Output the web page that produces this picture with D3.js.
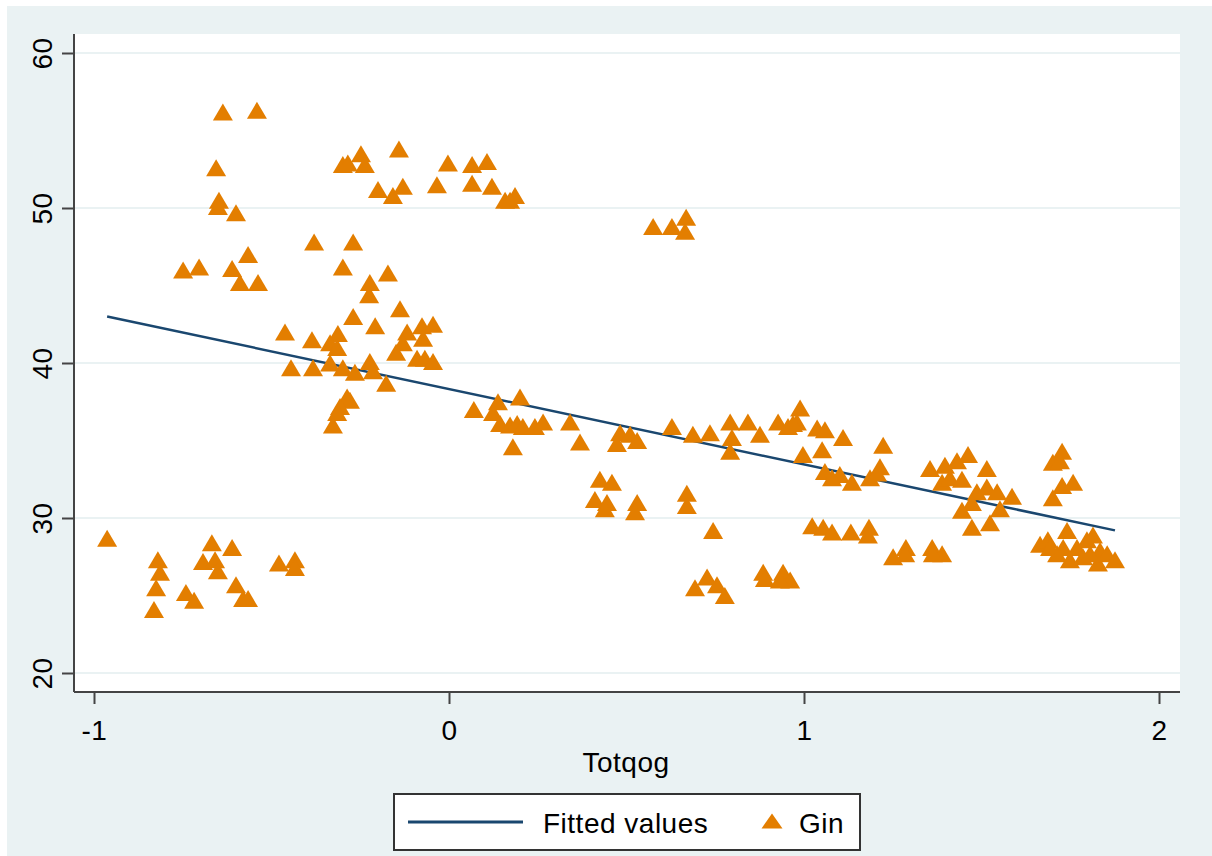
<!DOCTYPE html>
<html>
<head>
<meta charset="utf-8">
<script src="https://cdn.jsdelivr.net/npm/d3@7"></script>
<style>
  body { margin: 0; background: #fff; }
  text { font-family: "Liberation Sans", Arial, sans-serif; fill: #000; letter-spacing: 0.5px; }
</style>
</head>
<body>
<div id="graph"></div>
<script>
var svgWidth = 1212;
var svgHeight = 856;

// Totqog (x) and Gin (y)
var totqog = [
  -0.963, -0.820, -0.814, -0.825, -0.831, -0.741, -0.718, -0.693, -0.668, -0.659,
  -0.651, -0.611, -0.600, -0.580, -0.566, -0.479, -0.434, -0.434,
  -0.637, -0.541, -0.656, -0.648, -0.651, -0.600, -0.566, -0.749, -0.704, -0.611,
  -0.589, -0.538,
  -0.299, -0.285, -0.248, -0.237, -0.141, -0.200, -0.158, -0.130, -0.034, -0.003,
  0.065, 0.065, 0.107, 0.121, 0.158, 0.186, 0.172,
  -0.380, -0.270, -0.299, -0.223, -0.172, -0.225, -0.138, -0.270, -0.208, -0.462,
  -0.386, -0.313, -0.335, -0.315, -0.118, -0.076, -0.045, -0.073, -0.130, -0.149,
  -0.090, -0.068, -0.045, -0.445, -0.383, -0.335, -0.299, -0.265, -0.223, -0.214,
  -0.177, -0.287, -0.279, -0.307, -0.315, -0.327,
  0.070, 0.138, 0.200, 0.124, 0.144, 0.172, 0.192, 0.208, 0.242, 0.265,
  0.180, 0.341, 0.369, 0.482, 0.473, 0.510, 0.530, 0.628, 0.687, 0.735,
  0.792, 0.842, 0.797, 0.792, 0.876, 0.927, 0.955, 0.989, 0.980, 1.037,
  1.059, 1.110, 0.997, 1.051, 1.059, 1.101, 1.079, 1.135, 1.186, 1.214,
  1.206, 1.223, 0.969,
  0.575, 0.628, 0.668, 0.665,
  0.425, 0.459, 0.411, 0.445, 0.439, 0.530, 0.524, 0.670, 0.670, 0.744,
  1.023, 1.054, 1.079, 1.132, 1.183, 1.180,
  0.693, 0.727, 0.755, 0.777, 0.885, 0.890, 0.941, 0.961, 0.932,
  1.251, 1.287, 1.285, 1.361, 1.389, 1.363,
  1.355, 1.397, 1.431, 1.462, 1.515, 1.389, 1.411, 1.445, 1.487, 1.515,
  1.544, 1.586, 1.473, 1.445, 1.552, 1.524, 1.473,
  1.727, 1.701, 1.721, 1.727, 1.758, 1.701, 1.665, 1.687, 1.741, 1.713,
  1.749, 1.769, 1.797, 1.814, 1.786, 1.834, 1.828, 1.854, 1.876, 1.806,
  1.693, 1.730
];
var gin = [
  28.7, 27.3, 26.5, 25.5, 24.1, 25.2, 24.7, 27.2, 28.4, 27.3,
  26.6, 28.1, 25.7, 24.8, 24.8, 27.1, 27.3, 26.8,
  56.2, 56.3, 52.6, 50.5, 50.1, 49.7, 47.0, 46.0, 46.2, 46.1,
  45.2, 45.2,
  52.8, 52.9, 53.5, 52.8, 53.8, 51.2, 50.8, 51.4, 51.5, 52.9,
  52.8, 51.6, 53.0, 51.4, 50.5, 50.8, 50.5,
  47.8, 47.8, 46.2, 45.2, 45.8, 44.4, 43.5, 43.0, 42.4, 42.0,
  41.5, 41.9, 41.3, 41.0, 42.0, 42.4, 42.5, 41.6, 41.3, 40.7,
  40.3, 40.3, 40.1, 39.7, 39.7, 40.0, 39.7, 39.4, 40.1, 39.5,
  38.7, 37.8, 37.6, 37.2, 36.8, 36.0,
  37.0, 37.5, 37.8, 36.8, 36.1, 36.0, 36.1, 35.9, 35.9, 36.2,
  34.6, 36.2, 34.9, 35.5, 34.8, 35.4, 35.0, 35.9, 35.4, 35.5,
  36.2, 36.2, 35.2, 34.3, 35.4, 36.2, 35.9, 37.1, 36.2, 35.8,
  35.7, 35.2, 34.1, 34.4, 33.0, 32.8, 32.6, 32.3, 32.6, 33.3,
  32.9, 34.7, 36.1,
  48.8, 48.8, 49.4, 48.5,
  32.5, 32.3, 31.2, 31.0, 30.6, 31.0, 30.4, 31.6, 30.8, 29.2,
  29.5, 29.4, 29.1, 29.1, 29.4, 28.9,
  25.5, 26.2, 25.7, 25.0, 26.5, 26.1, 26.5, 26.0, 26.0,
  27.5, 28.1, 27.7, 28.1, 27.7, 27.7,
  33.2, 33.4, 33.7, 34.1, 33.2, 32.3, 32.6, 32.5, 31.7, 32.0,
  31.7, 31.4, 31.0, 30.5, 30.6, 29.7, 29.4,
  34.3, 33.6, 33.7, 32.1, 32.3, 31.3, 28.3, 28.6, 29.2, 27.7,
  27.3, 28.1, 28.6, 28.9, 27.5, 27.9, 27.1, 27.7, 27.3, 27.7,
  28.1, 28.1
];

// fitted line end points
var fitX = [-0.963, 1.876];
var fitY = [43.0, 29.2];

var xTicks = [-1, 0, 1, 2];
var yTicks = [20, 30, 40, 50, 60];

var navy = "#1a476f";
var orange = "#e37e00";

var plot = { left: 74, right: 1180, top: 34, bottom: 692 };

var svg = d3.select("#graph")
  .append("svg")
  .attr("width", svgWidth)
  .attr("height", svgHeight);

// graph region background
svg.append("rect")
  .attr("x", 7).attr("y", 6)
  .attr("width", svgWidth - 7).attr("height", svgHeight - 6)
  .attr("fill", "#eaf2f3");

svg.append("rect")
  .attr("x", plot.left).attr("y", plot.top)
  .attr("width", plot.right - plot.left).attr("height", plot.bottom - plot.top)
  .attr("fill", "#fff");

var xScale = d3.scaleLinear().domain([-1, 2]).range([94, 1159]);
var yScale = d3.scaleLinear().domain([20, 60]).range([673, 53]);

// grid lines
svg.append("g")
  .selectAll("line")
  .data(yTicks)
  .enter()
  .append("line")
  .attr("x1", plot.left)
  .attr("x2", plot.right)
  .attr("y1", d => yScale(d))
  .attr("y2", d => yScale(d))
  .attr("stroke", "#eaf2f3")
  .attr("stroke-width", 2);

// axes (plain hyphen minus like Stata)
var fmt = d => String(d);

var yAxis = svg.append("g")
  .attr("transform", `translate(${plot.left}, 0)`)
  .call(d3.axisLeft(yScale).tickValues(yTicks).tickFormat(fmt).tickSize(12).tickSizeOuter(0));
yAxis.select(".domain").remove();
yAxis.append("line")
  .attr("x1", 0).attr("x2", 0)
  .attr("y1", plot.top).attr("y2", plot.bottom)
  .attr("stroke", "#444").attr("stroke-width", 2);
yAxis.selectAll(".tick line").attr("stroke", "#444").attr("stroke-width", 2);
yAxis.selectAll(".tick text")
  .attr("x", null).attr("dy", null)
  .attr("text-anchor", "middle")
  .attr("transform", "translate(-22, 0) rotate(-90)")
  .attr("font-size", "28px")
  .attr("font-family", "Liberation Sans, Arial, sans-serif")
  .attr("fill", "#000");

var xAxis = svg.append("g")
  .attr("transform", `translate(0, ${plot.bottom})`)
  .call(d3.axisBottom(xScale).tickValues(xTicks).tickFormat(fmt).tickSize(12).tickSizeOuter(0));
xAxis.select(".domain").remove();
xAxis.append("line")
  .attr("x1", plot.left).attr("x2", plot.right)
  .attr("y1", 0).attr("y2", 0)
  .attr("stroke", "#444").attr("stroke-width", 2);
xAxis.selectAll(".tick line").attr("stroke", "#444").attr("stroke-width", 2);
xAxis.selectAll(".tick text")
  .attr("y", 48).attr("dy", null)
  .attr("font-size", "28px")
  .attr("font-family", "Liberation Sans, Arial, sans-serif")
  .attr("fill", "#000");

svg.append("text")
  .attr("x", 626)
  .attr("y", 772)
  .attr("text-anchor", "middle")
  .attr("font-size", "28px")
  .text("Totqog");

// triangle centred on its box
function tri(w, h) {
  return `M0,${-h / 2}L${w / 2},${h / 2}L${-w / 2},${h / 2}Z`;
}

// fitted line
var line = d3.line()
  .x(d => xScale(d[0]))
  .y(d => yScale(d[1]));

svg.append("path")
  .datum(d3.zip(fitX, fitY))
  .attr("d", line)
  .attr("fill", "none")
  .attr("stroke", navy)
  .attr("stroke-width", 2.5);

// scatter
svg.append("g")
  .selectAll("path")
  .data(d3.zip(totqog, gin))
  .enter()
  .append("path")
  .attr("d", tri(20, 17))
  .attr("transform", d => `translate(${xScale(d[0])}, ${yScale(d[1])})`)
  .attr("fill", orange);

// legend
var legend = svg.append("g");
legend.append("rect")
  .attr("x", 394).attr("y", 794)
  .attr("width", 466).attr("height", 56)
  .attr("fill", "#fff")
  .attr("stroke", "#333")
  .attr("stroke-width", 2);
legend.append("line")
  .attr("x1", 408).attr("x2", 523)
  .attr("y1", 822).attr("y2", 822)
  .attr("stroke", navy)
  .attr("stroke-width", 3);
legend.append("text")
  .attr("x", 543).attr("y", 833)
  .attr("font-size", "28px")
  .text("Fitted values");
legend.append("path")
  .attr("d", tri(21, 15))
  .attr("transform", "translate(772, 821)")
  .attr("fill", orange);
legend.append("text")
  .attr("x", 799).attr("y", 833)
  .attr("font-size", "28px")
  .text("Gin");
</script>
</body>
</html>
